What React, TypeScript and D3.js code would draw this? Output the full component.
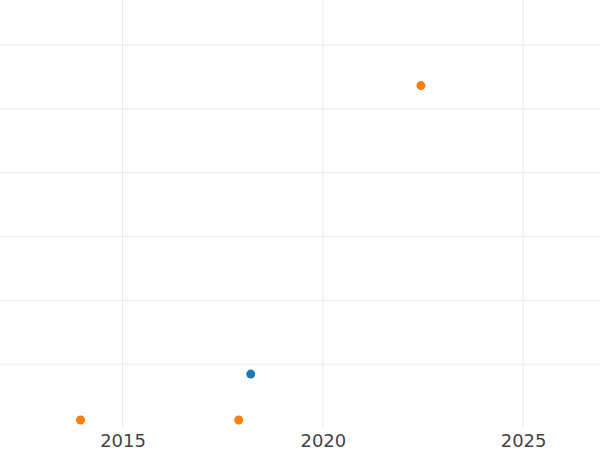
import React, { useEffect, useRef } from 'react';
import * as d3 from 'd3';

// data
const blueYears = [2018.2];
const blueValues = [8.45];
const orangeYears = [2013.95, 2017.9, 2022.45];
const orangeValues = [1.25, 1.25, 53.65];
const xTicks = [2015, 2020, 2025];
const yGrid = [10, 20, 30, 40, 50, 60];

const WIDTH = 600;
const HEIGHT = 450;

const App: React.FC = () => {
  const svgRef = useRef<SVGSVGElement>(null);

  useEffect(() => {
    if (!svgRef.current) return;

    const plotBottom = 428;

    const svg = d3.select(svgRef.current)
      .attr('width', WIDTH)
      .attr('height', HEIGHT)
      .html('');

    const xScale = d3.scaleLinear()
      .domain([2011.94, 2026.92])
      .range([0, WIDTH]);

    const yScale = d3.scaleLinear()
      .domain([0, 67.06])
      .range([plotBottom, 0]);

    svg.append('rect')
      .attr('width', WIDTH)
      .attr('height', HEIGHT)
      .attr('fill', '#fff');

    // gridlines
    svg.append('g')
      .selectAll('line')
      .data(yGrid)
      .join('line')
      .attr('x1', 0)
      .attr('x2', WIDTH)
      .attr('y1', d => yScale(d))
      .attr('y2', d => yScale(d))
      .attr('stroke', '#ebebeb')
      .attr('stroke-width', 1);

    svg.append('g')
      .selectAll('line')
      .data(xTicks)
      .join('line')
      .attr('x1', d => xScale(d))
      .attr('x2', d => xScale(d))
      .attr('y1', 0)
      .attr('y2', plotBottom - 1)
      .attr('stroke', '#ebebeb')
      .attr('stroke-width', 1);

    // x axis labels
    const xAxis = d3.axisBottom(xScale)
      .tickValues(xTicks)
      .tickFormat(d3.format('d'))
      .tickSize(0)
      .tickPadding(6);

    const ax = svg.append('g')
      .attr('transform', `translate(0,${plotBottom})`)
      .call(xAxis);
    ax.select('.domain').remove();
    ax.selectAll('text')
      .attr('fill', '#444')
      .style('font-family', 'DejaVu Sans, sans-serif')
      .style('font-size', '18px');

    // points
    const orange = orangeYears.map((x, i) => ({ x, y: orangeValues[i] }));
    const blue = blueYears.map((x, i) => ({ x, y: blueValues[i] }));

    svg.append('g')
      .selectAll('circle')
      .data(orange)
      .join('circle')
      .attr('cx', d => xScale(d.x))
      .attr('cy', d => yScale(d.y))
      .attr('r', 4.5)
      .attr('fill', '#ff7f0e');

    svg.append('g')
      .selectAll('circle')
      .data(blue)
      .join('circle')
      .attr('cx', d => xScale(d.x))
      .attr('cy', d => yScale(d.y))
      .attr('r', 4.5)
      .attr('fill', '#1f77b4');
  }, []);

  return (
    <svg ref={svgRef} style={{ position: 'absolute', left: 0, top: 0, display: 'block' }}></svg>
  );
};

export default App;
